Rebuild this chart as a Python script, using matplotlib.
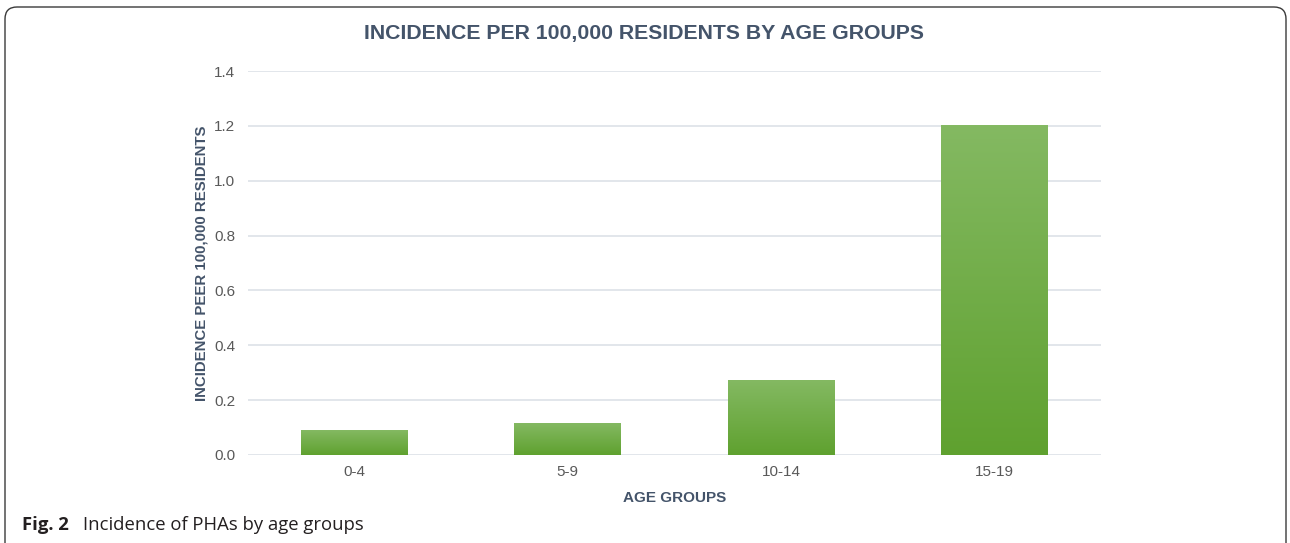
import numpy as np
import matplotlib
matplotlib.use("Agg")
import matplotlib.pyplot as plt
from matplotlib.patches import FancyBboxPatch
from matplotlib.colors import LinearSegmentedColormap

# ── data ──────────────────────────────────────────────────────────────────────
age_groups = ["0-4", "5-9", "10-14", "15-19"]
incidence = [0.09, 0.115, 0.27, 1.2]
y_ticks = [0.0, 0.2, 0.4, 0.6, 0.8, 1.0, 1.2, 1.4]

TITLE_COL = "#44546a"
TICK_COL = "#595959"
GRID_COL = "#dde2e8"

plt.rcParams["font.family"] = ["Liberation Sans", "DejaVu Sans"]

fig = plt.figure(figsize=(12.9, 5.43), dpi=100)
ax = fig.add_axes([0.1922, 0.1621, 0.6612, 0.7071])

# green gradient: light at top, darker at bottom
green = LinearSegmentedColormap.from_list("grn", ["#5fa12f", "#84b962"])
grad = np.linspace(0, 1, 256).reshape(-1, 1)

bar_w = 0.5
x = np.arange(len(age_groups))
for xi, v in zip(x, incidence):
    ax.imshow(grad, cmap=green, origin="lower", aspect="auto",
              extent=(xi - bar_w / 2, xi + bar_w / 2, 0, v), zorder=3)

ax.set_xlim(-0.5, len(age_groups) - 0.5)
ax.set_ylim(0, 1.4)
ax.set_yticks(y_ticks)
ax.set_yticklabels([f"{t:.1f}" for t in y_ticks])
ax.set_xticks(x)
ax.set_xticklabels(age_groups)
ax.tick_params(length=0, labelsize=11, colors=TICK_COL)
ax.tick_params(axis="y", pad=9)
ax.tick_params(axis="x", pad=7)
for t in y_ticks:
    ax.axhline(t, color=GRID_COL, lw=1.2, zorder=1)
for s in ax.spines.values():
    s.set_visible(False)

ax.set_xlabel("AGE GROUPS", fontsize=11, fontweight="bold", color=TITLE_COL, labelpad=9)
ax.set_ylabel("INCIDENCE PEER 100,000 RESIDENTS", fontsize=10.8, fontweight="bold",
              color=TITLE_COL, labelpad=4)

fig.text(0.4996, 0.938, "INCIDENCE PER 100,000 RESIDENTS BY AGE GROUPS",
         ha="center", va="center", fontsize=15.3, fontweight="bold", color=TITLE_COL)

# caption
fig.text(22 / 1290, 0.034, "Fig. 2", ha="left", va="center", fontsize=13.3,
         fontweight="bold", family=["Open Sans", "DejaVu Sans"], color="#231f20")
fig.text(83 / 1290, 0.034, "Incidence of PHAs by age groups", ha="left", va="center",
         fontsize=13.3, family=["Open Sans", "DejaVu Sans"], color="#231f20")

# rounded frame
frame = FancyBboxPatch((0.05, -0.3), 12.81, 5.66,
                       boxstyle="round,pad=0,rounding_size=0.12",
                       transform=fig.dpi_scale_trans, fill=False,
                       edgecolor="#3a3a3a", lw=1.0)
fig.patches.append(frame)

fig.savefig("out.png", dpi=100)
